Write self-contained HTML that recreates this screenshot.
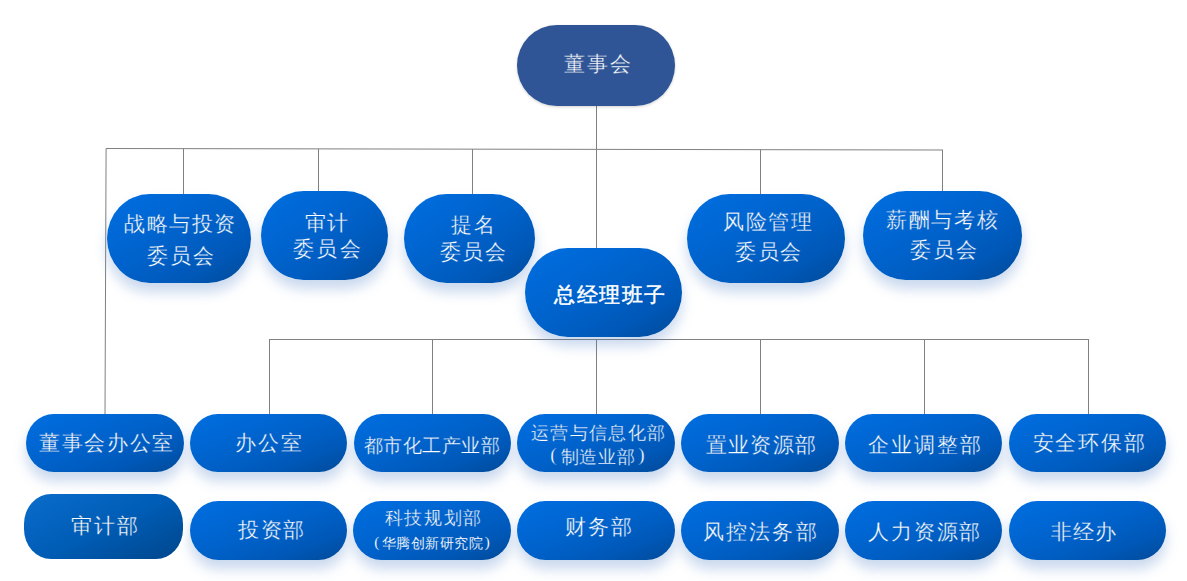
<!DOCTYPE html><html><head><meta charset="utf-8"><style>
*{margin:0;padding:0;box-sizing:border-box}
html,body{width:1187px;height:581px;overflow:hidden;background:#fff}
body{position:relative;font-family:"Liberation Serif",serif}
.l{position:absolute;background:#808080}
.b{position:absolute}
.top{background:#2f5597;box-shadow:0 1px 3px rgba(0,0,0,.18)}
.g{background:linear-gradient(to bottom right,#006ee0 0%,#0068d6 25%,#0061c9 50%,#0058b8 75%,#004a98 100%);box-shadow:0 9px 13px rgba(60,115,195,.28)}
.d{background:linear-gradient(155deg,#0a6ccc 0%,#005db6 50%,#00468c 100%)}
.t{position:absolute;color:#fff;white-space:nowrap;line-height:1;-webkit-text-stroke:0.3px #0062c6}
.t.bd{-webkit-text-stroke:0.45px #fff}
.t.sm{-webkit-text-stroke-width:0.12px}
</style></head><body>
<svg style="position:absolute;left:0;top:0" width="1187" height="581" viewBox="0 0 1187 581"><line x1="596.5" y1="105" x2="596.5" y2="248" stroke="#808080" stroke-width="1"/><line x1="106" y1="148.5" x2="943" y2="150.0" stroke="#808080" stroke-width="1"/><line x1="183.5" y1="148.63799283154123" x2="183.5" y2="194" stroke="#808080" stroke-width="1"/><line x1="318.5" y1="148.87992831541217" x2="318.5" y2="191" stroke="#808080" stroke-width="1"/><line x1="472.5" y1="149.15591397849462" x2="472.5" y2="194" stroke="#808080" stroke-width="1"/><line x1="760.5" y1="149.6720430107527" x2="760.5" y2="194" stroke="#808080" stroke-width="1"/><line x1="942.5" y1="149.99820788530465" x2="942.5" y2="191" stroke="#808080" stroke-width="1"/><line x1="106.1" y1="148.5" x2="105.0" y2="414" stroke="#808080" stroke-width="1"/><line x1="269" y1="339.5" x2="1089" y2="339.5" stroke="#808080" stroke-width="1"/><line x1="269.5" y1="339.5" x2="269.5" y2="414" stroke="#808080" stroke-width="1"/><line x1="432.5" y1="339.5" x2="432.5" y2="414" stroke="#808080" stroke-width="1"/><line x1="596.5" y1="339.5" x2="596.5" y2="414" stroke="#808080" stroke-width="1"/><line x1="760.5" y1="339.5" x2="760.5" y2="414" stroke="#808080" stroke-width="1"/><line x1="924.5" y1="339.5" x2="924.5" y2="414" stroke="#808080" stroke-width="1"/><line x1="1088.5" y1="339.5" x2="1088.5" y2="414" stroke="#808080" stroke-width="1"/></svg>
<div class="b top" style="left:517px;top:25px;width:158px;height:81px;border-radius:40px / 40.5px"></div>
<div class="b g" style="left:107px;top:194px;width:144px;height:89px;border-radius:42.7px / 44.5px"></div>
<div class="b g" style="left:261px;top:191px;width:127px;height:89px;border-radius:42.7px / 44.5px"></div>
<div class="b g" style="left:404px;top:194px;width:131px;height:89px;border-radius:42.7px / 44.5px"></div>
<div class="b g" style="left:687px;top:194px;width:158px;height:89px;border-radius:42.7px / 44.5px"></div>
<div class="b g" style="left:863px;top:191px;width:159px;height:89px;border-radius:42.7px / 44.5px"></div>
<div class="b g" style="left:525px;top:248px;width:157px;height:89px;border-radius:42.7px / 44.5px"></div>
<div class="b g" style="left:26px;top:414px;width:158px;height:58px;border-radius:27.8px / 29.0px"></div>
<div class="b g" style="left:190px;top:414px;width:157px;height:58px;border-radius:27.8px / 29.0px"></div>
<div class="b g" style="left:354px;top:414px;width:157px;height:58px;border-radius:27.8px / 29.0px"></div>
<div class="b g" style="left:517px;top:414px;width:158px;height:58px;border-radius:27.8px / 29.0px"></div>
<div class="b g" style="left:681px;top:414px;width:158px;height:58px;border-radius:27.8px / 29.0px"></div>
<div class="b g" style="left:845px;top:414px;width:157px;height:58px;border-radius:27.8px / 29.0px"></div>
<div class="b g" style="left:1009px;top:414px;width:157px;height:58px;border-radius:27.8px / 29.0px"></div>
<div class="b d" style="left:24px;top:494px;width:159px;height:65px;border-radius:27px / 30px"></div>
<div class="b g" style="left:190px;top:501px;width:157px;height:59px;border-radius:28.3px / 29.5px"></div>
<div class="b g" style="left:353px;top:501px;width:158px;height:59px;border-radius:28.3px / 29.5px"></div>
<div class="b g" style="left:517px;top:501px;width:158px;height:59px;border-radius:28.3px / 29.5px"></div>
<div class="b g" style="left:681px;top:501px;width:158px;height:59px;border-radius:28.3px / 29.5px"></div>
<div class="b g" style="left:845px;top:501px;width:157px;height:59px;border-radius:28.3px / 29.5px"></div>
<div class="b g" style="left:1009px;top:501px;width:157px;height:59px;border-radius:28.3px / 29.5px"></div>
<div class="t" style="-webkit-text-stroke-color:#2f5597;left:564.00px;top:54.00px;font-size:21px;letter-spacing:1.92px;">董事会</div>
<div class="t" style="left:124.00px;top:213.50px;font-size:21px;letter-spacing:1.55px;">战略与投资</div>
<div class="t" style="left:147.00px;top:245.50px;font-size:21px;letter-spacing:1.92px;">委员会</div>
<div class="t" style="left:305.00px;top:212.50px;font-size:21px;letter-spacing:1.38px;">审计</div>
<div class="t" style="left:293.00px;top:239.25px;font-size:21px;letter-spacing:2.30px;">委员会</div>
<div class="t" style="left:451.00px;top:214.50px;font-size:21px;letter-spacing:2.38px;">提名</div>
<div class="t" style="left:439.80px;top:241.50px;font-size:21px;letter-spacing:1.59px;">委员会</div>
<div class="t" style="left:723.00px;top:211.95px;font-size:21px;letter-spacing:1.62px;">风险管理</div>
<div class="t" style="left:735.00px;top:241.60px;font-size:21px;letter-spacing:1.59px;">委员会</div>
<div class="t" style="left:886.00px;top:210.40px;font-size:21px;letter-spacing:1.64px;">薪酬与考核</div>
<div class="t" style="left:910.00px;top:239.75px;font-size:21px;letter-spacing:1.92px;">委员会</div>
<div class="t bd" style="left:554.00px;top:284.90px;font-size:21px;letter-spacing:1.50px;">总经理班子</div>
<div class="t" style="left:39.40px;top:433.20px;font-size:21px;letter-spacing:1.55px;">董事会办公室</div>
<div class="t" style="left:235.20px;top:433.10px;font-size:21px;letter-spacing:2.05px;">办公室</div>
<div class="t" style="left:363.60px;top:435.75px;font-size:19px;letter-spacing:0.51px;">都市化工产业部</div>
<div class="t" style="left:531.00px;top:423.70px;font-size:18px;letter-spacing:1.32px;">运营与信息化部</div>
<div class="t" style="left:550.15px;top:445.00px;font-size:19px;letter-spacing:0.00px;">(</div>
<div class="t" style="left:560.60px;top:447.85px;font-size:18px;letter-spacing:0.88px;">制造业部</div>
<div class="t" style="left:638.30px;top:445.00px;font-size:19px;letter-spacing:0.00px;">)</div>
<div class="t" style="left:705.60px;top:434.90px;font-size:21px;letter-spacing:1.36px;">置业资源部</div>
<div class="t" style="left:868.20px;top:434.50px;font-size:21px;letter-spacing:1.95px;">企业调整部</div>
<div class="t" style="left:1032.80px;top:433.10px;font-size:21px;letter-spacing:1.70px;">安全环保部</div>
<div class="t" style="-webkit-text-stroke-color:#0058ae;left:71.40px;top:516.45px;font-size:21px;letter-spacing:1.64px;">审计部</div>
<div class="t" style="left:238.40px;top:519.85px;font-size:21px;letter-spacing:1.32px;">投资部</div>
<div class="t" style="left:384.60px;top:509.40px;font-size:18px;letter-spacing:1.66px;">科技规划部</div>
<div class="t sm" style="left:374.35px;top:534.85px;font-size:15px;letter-spacing:0.00px;">(</div>
<div class="t sm" style="left:382.00px;top:536.85px;font-size:14px;letter-spacing:0.49px;">华腾创新研究院</div>
<div class="t sm" style="left:484.85px;top:534.85px;font-size:15px;letter-spacing:0.00px;">)</div>
<div class="t" style="left:565.20px;top:516.80px;font-size:21px;letter-spacing:1.97px;">财务部</div>
<div class="t" style="left:703.40px;top:521.60px;font-size:21px;letter-spacing:2.03px;">风控法务部</div>
<div class="t" style="left:868.20px;top:521.65px;font-size:21px;letter-spacing:1.78px;">人力资源部</div>
<div class="t" style="left:1051.40px;top:521.65px;font-size:21px;letter-spacing:0.70px;">非经办</div>
</body></html>
